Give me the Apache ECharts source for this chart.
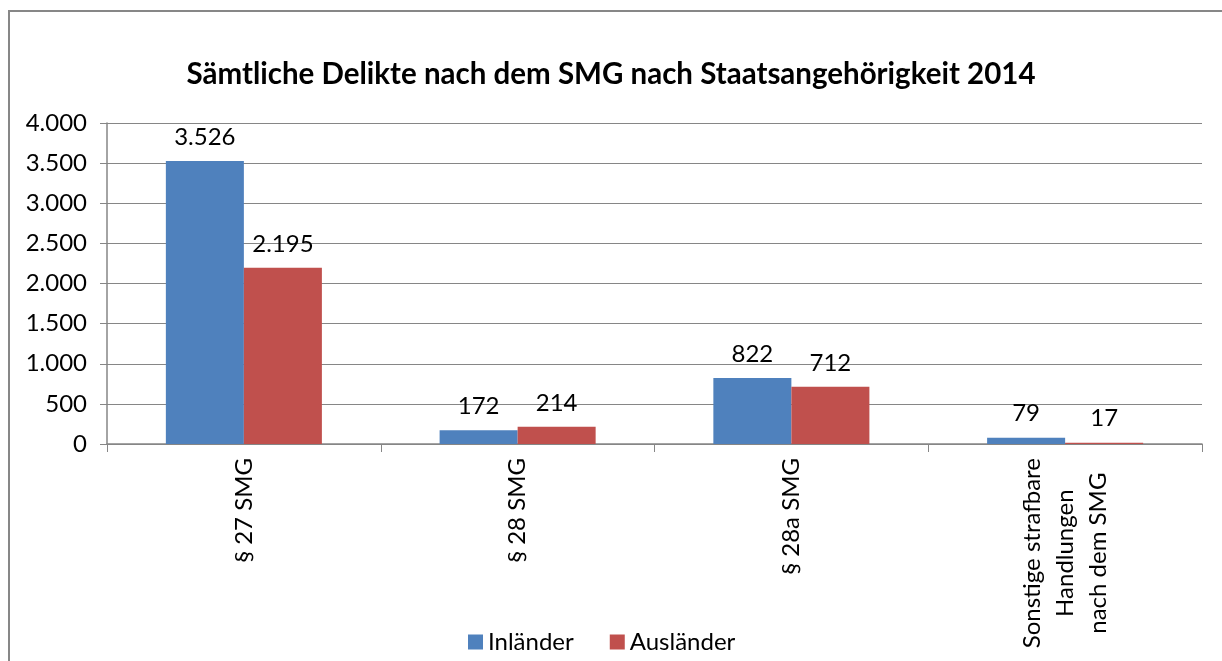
<!DOCTYPE html>
<html>
<head>
<meta charset="utf-8">
<script src="https://cdn.jsdelivr.net/npm/echarts@6/dist/echarts.min.js"></script>
<style>
  html, body { margin: 0; padding: 0; background: #fff; }
  #chart { width: 1222px; height: 661px; }
</style>
</head>
<body>
<div id="chart"></div>
<script>
var categories = ["§ 27 SMG", "§ 28 SMG", "§ 28a SMG", "Sonstige strafbare\nHandlungen\nnach dem SMG"];
var inlaender = [3526, 172, 822, 79];
var auslaender = [2195, 214, 712, 17];
var seriesNames = ["Inländer", "Ausländer"];

var FONT = "Lato, 'Open Sans', sans-serif";

// deutsche Tausenderpunkte
function fmt(v) {
  return String(v).replace(/\B(?=(\d{3})+(?!\d))/g, ".");
}

var chart = echarts.init(document.getElementById("chart"));

var labelStyle = {
  show: true,
  position: "top",
  distance: 12,
  color: "#000",
  fontSize: 24,
  fontFamily: FONT,
  formatter: function (p) { return fmt(p.value); }
};

chart.setOption({
  animation: false,
  backgroundColor: "#fff",
  graphic: [{
    type: "rect",
    shape: { x: 9, y: 11, width: 1300, height: 700 },
    style: { fill: null, stroke: "#878787", lineWidth: 2 },
    silent: true
  }],
  title: {
    text: "Sämtliche Delikte nach dem SMG nach Staatsangehörigkeit 2014",
    left: "center",
    top: 54,
    textStyle: { fontSize: 29.5, fontWeight: "bold", color: "#000", fontFamily: FONT }
  },
  legend: {
    bottom: 2,
    left: 463,
    itemWidth: 15,
    itemHeight: 15,
    itemGap: 36,
    icon: "rect",
    textStyle: { fontSize: 24, color: "#000", fontFamily: FONT },
    data: seriesNames
  },
  grid: { left: 107, right: 20, top: 123, bottom: 217 },
  xAxis: {
    type: "category",
    data: categories,
    axisLine: { lineStyle: { color: "#868686", width: 1.5 } },
    axisTick: { show: true, length: 8, lineStyle: { color: "#868686" } },
    axisLabel: {
      rotate: 90,
      margin: 14,
      color: "#000",
      fontSize: 24,
      fontFamily: FONT,
      lineHeight: 33,
      formatter: function (v) {
        return v.split("\n").map(function (s) { return "{c|" + s + "}"; }).join("\n");
      },
      rich: { c: { align: "center", fontSize: 24, fontFamily: FONT, color: "#000", lineHeight: 33 } }
    }
  },
  yAxis: {
    type: "value",
    min: 0,
    max: 4000,
    interval: 500,
    axisLine: { show: true, lineStyle: { color: "#868686", width: 1.5 } },
    axisTick: { show: true, length: 7, lineStyle: { color: "#868686" } },
    splitLine: { lineStyle: { color: "#868686", width: 1.2 } },
    axisLabel: {
      margin: 20,
      color: "#000",
      fontSize: 24,
      fontFamily: FONT,
      formatter: function (v) { return fmt(v); }
    }
  },
  series: [
    {
      name: seriesNames[0],
      type: "bar",
      data: inlaender,
      barGap: "0%",
      barCategoryGap: "43%",
      itemStyle: { color: "#4F81BD" },
      label: labelStyle
    },
    {
      name: seriesNames[1],
      type: "bar",
      data: auslaender,
      itemStyle: { color: "#C0504D" },
      label: labelStyle
    }
  ]
});
</script>
</body>
</html>
